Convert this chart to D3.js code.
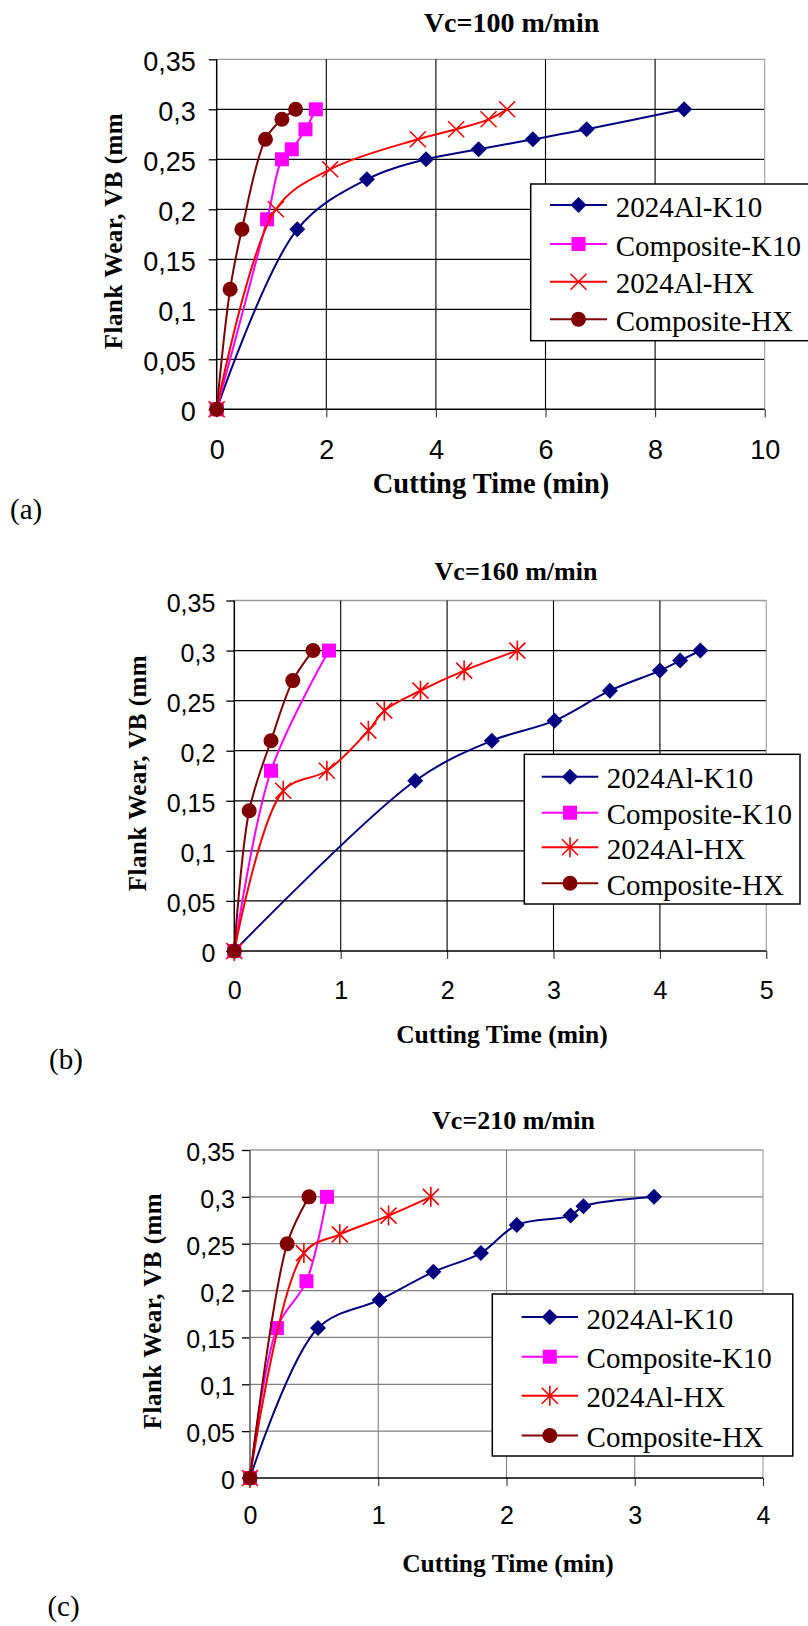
<!DOCTYPE html>
<html>
<head>
<meta charset="utf-8">
<title>flank wear</title>
<script src="https://cdn.jsdelivr.net/npm/d3@7"></script>
<style>
  body { margin: 0; background: #fff; }
  svg { display: block; }
</style>
</head>
<body>
<svg width="808" height="1626"></svg>
<script>
// series names, colours and tick labels
var seriesNames = ["2024Al-K10", "Composite-K10", "2024Al-HX", "Composite-HX"];
var seriesColors = ["#000080", "#ff00ff", "#ff0000", "#800000"];
var yTicks = [0, 0.05, 0.1, 0.15, 0.2, 0.25, 0.3, 0.35];
var yTickLabels = ["0", "0,05", "0,1", "0,15", "0,2", "0,25", "0,3", "0,35"];

// Vc=100 m/min
var t100_alK10 = [0, 1.47, 2.74, 3.82, 4.78, 5.77, 6.75, 8.53];
var vb100_alK10 = [0, 0.18, 0.23, 0.25, 0.26, 0.27, 0.28, 0.30];
var t100_compK10 = [0, 0.92, 1.19, 1.37, 1.62, 1.81];
var vb100_compK10 = [0, 0.19, 0.25, 0.26, 0.28, 0.30];
var t100_alHX = [0, 1.08, 2.07, 3.67, 4.37, 4.96, 5.30];
var vb100_alHX = [0, 0.20, 0.24, 0.27, 0.28, 0.29, 0.30];
var t100_compHX = [0, 0.245, 0.46, 0.89, 1.19, 1.44];
var vb100_compHX = [0, 0.12, 0.18, 0.27, 0.29, 0.30];

// Vc=160 m/min
var t160_alK10 = [0, 1.70, 2.42, 3.01, 3.53, 4.00, 4.19, 4.38];
var vb160_alK10 = [0, 0.17, 0.21, 0.23, 0.26, 0.28, 0.29, 0.30];
var t160_compK10 = [0, 0.345, 0.89];
var vb160_compK10 = [0, 0.18, 0.30];
var t160_alHX = [0, 0.46, 0.87, 1.26, 1.41, 1.75, 2.16, 2.66];
var vb160_alHX = [0, 0.16, 0.18, 0.22, 0.24, 0.26, 0.28, 0.30];
var t160_compHX = [0, 0.14, 0.345, 0.55, 0.74];
var vb160_compHX = [0, 0.14, 0.21, 0.27, 0.30];

// Vc=210 m/min
var t210_alK10 = [0, 0.53, 1.01, 1.43, 1.80, 2.08, 2.50, 2.60, 3.15];
var vb210_alK10 = [0, 0.16, 0.19, 0.22, 0.24, 0.27, 0.28, 0.29, 0.30];
var t210_compK10 = [0, 0.21, 0.44, 0.60];
var vb210_compK10 = [0, 0.16, 0.21, 0.30];
var t210_alHX = [0, 0.42, 0.70, 1.08, 1.41];
var vb210_alHX = [0, 0.24, 0.26, 0.28, 0.30];
var t210_compHX = [0, 0.29, 0.46];
var vb210_compHX = [0, 0.25, 0.30];

var svg = d3.select("svg");

function zip(t, v) { return t.map(function (d, i) { return [d, v[i]]; }); }

function addMarker(sel, type, color) {
    if (type == "diamond") {
        sel.append("path").attr("d", "M0,-8L8,0L0,8L-8,0Z").attr("fill", color);
    } else if (type == "square") {
        sel.append("rect").attr("x", -7).attr("y", -7).attr("width", 14).attr("height", 14).attr("fill", color);
    } else if (type == "circle") {
        sel.append("circle").attr("r", 7.5).attr("fill", color);
    } else if (type == "x") {
        sel.append("path").attr("d", "M-8,-8L8,8M-8,8L8,-8").attr("stroke", color).attr("stroke-width", 1.6).attr("fill", "none");
    } else {
        sel.append("path").attr("d", "M-8,-8L8,8M-8,8L8,-8M0,-10L0,10").attr("stroke", color).attr("stroke-width", 1.6).attr("fill", "none");
    }
}

function drawPanel(p) {
    var g = svg.append("g");
    var x = d3.scaleLinear().domain([0, p.xMax]).range([p.left, p.right]);
    var y = d3.scaleLinear().domain([0, 0.35]).range([p.bottom, p.top]);

    // grille
    g.selectAll("line.hg").data(yTicks.slice(1)).enter().append("line")
        .attr("x1", p.left).attr("x2", p.right)
        .attr("y1", function (d) { return y(d); }).attr("y2", function (d) { return y(d); })
        .attr("stroke", function (d, i) { return i == yTicks.length - 2 ? "#9a9a9a" : p.grid; })
        .attr("stroke-width", 1.3);
    g.selectAll("line.vg").data(p.xTicks.slice(1)).enter().append("line")
        .attr("x1", function (d) { return x(d); }).attr("x2", function (d) { return x(d); })
        .attr("y1", p.top).attr("y2", p.bottom)
        .attr("stroke", function (d, i) { return i == p.xTicks.length - 2 ? "#9a9a9a" : p.grid; })
        .attr("stroke-width", 1.1);

    // axes
    var axY = d3.axisLeft(y).tickValues(yTicks).tickSize(8).tickPadding(p.yPad)
        .tickFormat(function (d, i) { return yTickLabels[i]; });
    var gy = g.append("g").attr("transform", "translate(" + p.left + ",0)").call(axY);
    gy.select(".domain").remove();
    gy.selectAll("line").attr("stroke", "#000").attr("stroke-width", 1.3);
    gy.selectAll("text").attr("font-family", "'Liberation Sans', Arial, sans-serif")
        .attr("font-size", p.tickFont).attr("fill", "#000").attr("dy", "0.42em");

    var axX = d3.axisBottom(x).tickValues(p.xTicks).tickSize(8).tickPadding(p.xPad).tickFormat(d3.format("d"));
    var gx = g.append("g").attr("transform", "translate(0," + p.bottom + ")").call(axX);
    gx.select(".domain").remove();
    gx.selectAll("line").attr("stroke", "#333").attr("stroke-width", 1.1);
    gx.selectAll("text").attr("font-family", "'Liberation Sans', Arial, sans-serif")
        .attr("font-size", p.tickFont).attr("fill", "#000");

    g.append("line").attr("x1", p.left).attr("x2", p.right).attr("y1", p.bottom).attr("y2", p.bottom)
        .attr("stroke", "#000").attr("stroke-width", 1.6);
    g.append("line").attr("x1", p.left).attr("x2", p.left).attr("y1", p.top).attr("y2", p.bottom)
        .attr("stroke", p.axisColor).attr("stroke-width", 1.5);

    // courbes lissees
    var line = d3.line()
        .x(function (d) { return x(d[0]); })
        .y(function (d) { return y(d[1]); })
        .curve(d3.curveCatmullRom.alpha(0.5));

    p.series.forEach(function (s, k) {
        g.append("path").datum(s)
            .attr("fill", "none")
            .attr("stroke", seriesColors[k])
            .attr("stroke-width", 2)
            .attr("d", line);
        g.selectAll("g.m" + k).data(s).enter().append("g")
            .attr("transform", function (d) { return "translate(" + x(d[0]) + "," + y(d[1]) + ")"; })
            .each(function () { addMarker(d3.select(this), p.markers[k], seriesColors[k]); });
    });

    // legende
    var L = p.legend;
    g.append("rect").attr("x", L.x).attr("y", L.y).attr("width", L.w).attr("height", L.h)
        .attr("fill", "#fff").attr("stroke", "#000").attr("stroke-width", 1.5);
    seriesNames.forEach(function (name, k) {
        var ry = L.rows[k];
        g.append("line").attr("x1", L.lx1).attr("x2", L.lx2).attr("y1", ry).attr("y2", ry)
            .attr("stroke", seriesColors[k]).attr("stroke-width", 2);
        var m = g.append("g").attr("transform", "translate(" + ((L.lx1 + L.lx2) / 2) + "," + ry + ")");
        addMarker(m, p.markers[k], seriesColors[k]);
        g.append("text").attr("x", L.tx).attr("y", ry).attr("dy", "0.4em")
            .attr("font-family", "'Liberation Serif', 'Times New Roman', serif")
            .attr("font-size", 29).text(name);
    });

    // titres
    g.append("text").attr("x", p.title[0]).attr("y", p.title[1]).attr("text-anchor", "middle")
        .attr("font-family", "'Liberation Serif', 'Times New Roman', serif").attr("font-weight", "bold")
        .attr("font-size", p.titleFont).text(p.titleText);
    g.append("text").attr("x", p.xTitle[0]).attr("y", p.xTitle[1]).attr("text-anchor", "middle")
        .attr("font-family", "'Liberation Serif', 'Times New Roman', serif").attr("font-weight", "bold")
        .attr("font-size", p.xTitleFont).text("Cutting Time (min)");
    g.append("text").attr("transform", "translate(" + p.yTitle[0] + "," + p.yTitle[1] + ") rotate(-90)")
        .attr("text-anchor", "middle")
        .attr("font-family", "'Liberation Serif', 'Times New Roman', serif").attr("font-weight", "bold")
        .attr("font-size", 25).attr("letter-spacing", 0.5).text("Flank Wear, VB (mm");
    g.append("text").attr("x", p.label[0]).attr("y", p.label[1])
        .attr("font-family", "'Liberation Serif', 'Times New Roman', serif")
        .attr("font-size", 29).text(p.labelText);
}

drawPanel({
    left: 216.7, right: 764.7, top: 59.3, bottom: 409.3,
    xMax: 10, xTicks: [0, 2, 4, 6, 8, 10], grid: "#000", axisColor: "#000",
    tickFont: 27, yPad: 13, xPad: 22.8,
    series: [zip(t100_alK10, vb100_alK10), zip(t100_compK10, vb100_compK10), zip(t100_alHX, vb100_alHX), zip(t100_compHX, vb100_compHX)],
    markers: ["diamond", "square", "x", "circle"],
    legend: { x: 530.7, y: 184, w: 300, h: 156.7, rows: [205, 244, 281.7, 319.3], lx1: 550, lx2: 607, tx: 615.7 },
    titleText: "Vc=100 m/min", title: [511.6, 32], titleFont: 28,
    xTitle: [491, 493], xTitleFont: 28.5,
    yTitle: [122, 231],
    labelText: "(a)", label: [10, 519]
});

drawPanel({
    left: 234.3, right: 766.3, top: 600.5, bottom: 951,
    xMax: 5, xTicks: [0, 1, 2, 3, 4, 5], grid: "#000", axisColor: "#000",
    tickFont: 25, yPad: 11, xPad: 21.8,
    series: [zip(t160_alK10, vb160_alK10), zip(t160_compK10, vb160_compK10), zip(t160_alHX, vb160_alHX), zip(t160_compHX, vb160_compHX)],
    markers: ["diamond", "square", "asterisk", "circle"],
    legend: { x: 524.3, y: 754.3, w: 275.7, h: 149.7, rows: [776.7, 812.7, 847.3, 883.3], lx1: 541.7, lx2: 598.3, tx: 606.7 },
    titleText: "Vc=160 m/min", title: [516, 580], titleFont: 26,
    xTitle: [502, 1043], xTitleFont: 25.5,
    yTitle: [146, 773],
    labelText: "(b)", label: [49, 1069]
});

drawPanel({
    left: 250, right: 763, top: 1150, bottom: 1478,
    xMax: 4, xTicks: [0, 1, 2, 3, 4], grid: "#808080", axisColor: "#555",
    tickFont: 25, yPad: 7, xPad: 20.2,
    series: [zip(t210_alK10, vb210_alK10), zip(t210_compK10, vb210_compK10), zip(t210_alHX, vb210_alHX), zip(t210_compHX, vb210_compHX)],
    markers: ["diamond", "square", "asterisk", "circle"],
    legend: { x: 492.3, y: 1294, w: 300.5, h: 162, rows: [1317, 1356.7, 1395.7, 1435.5], lx1: 521.6, lx2: 578, tx: 586.6 },
    titleText: "Vc=210 m/min", title: [513.5, 1128.6], titleFont: 26,
    xTitle: [508, 1572], xTitleFont: 25.5,
    yTitle: [161, 1311],
    labelText: "(c)", label: [47.4, 1616]
});
</script>
</body>
</html>
